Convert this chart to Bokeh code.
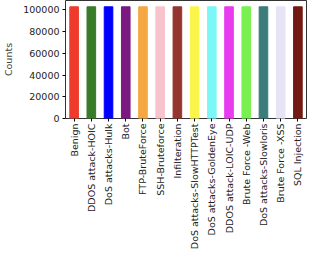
from bokeh.plotting import figure
from bokeh.models import ColumnDataSource, FactorRange, Range1d, FixedTicker, PrintfTickFormatter
from bokeh.embed import file_html
from bokeh.resources import INLINE
import math

categories = ["Benign", "DDOS attack-HOIC", "DoS attacks-Hulk", "Bot", "FTP-BruteForce",
              "SSH-Bruteforce", "Infilteration", "DoS attacks-SlowHTTPTest",
              "DoS attacks-GoldenEye", "DDOS attack-LOIC-UDP", "Brute Force -Web",
              "DoS attacks-Slowloris", "Brute Force -XSS", "SQL Injection"]
counts = [102800] * 14
colors = ["#ee3b2b", "#387b28", "#0000ff", "#7a1a80", "#f5a742", "#f7c3cc", "#953530",
          "#fbf54a", "#7cf7f7", "#e83cf0", "#78f050", "#3b7d7b", "#e6e4f5", "#731a12"]
y_ticks = [0, 20000, 40000, 60000, 80000, 100000]

src = ColumnDataSource(dict(cat=categories, val=counts, col=colors))

p = figure(width=308, height=252, x_range=FactorRange(*categories),
           y_range=Range1d(0, 108600), output_backend="svg", toolbar_location=None,
           min_border_left=0, min_border_right=2, min_border_top=0, min_border_bottom=0)
p.vbar(x="cat", top="val", width=0.5, color="col", source=src)

p.xgrid.visible = False
p.ygrid.visible = False
p.outline_line_color = "black"
p.outline_line_width = 1
p.outline_line_alpha = 0.8

p.yaxis.ticker = FixedTicker(ticks=y_ticks)
p.yaxis.formatter = PrintfTickFormatter(format="%d")
p.yaxis.axis_label = "Counts"
p.yaxis.axis_label_text_font = "DejaVu Sans"
p.yaxis.axis_label_text_font_size = "9.5px"
p.yaxis.axis_label_text_font_style = "normal"
p.yaxis.axis_label_standoff = 6

for ax in (p.xaxis, p.yaxis):
    ax.major_label_text_font = "DejaVu Sans"
    ax.major_label_text_font_size = "9.5px"
    ax.major_label_text_color = "#222222"
    ax.major_tick_in = 0
    ax.major_tick_out = 3
    ax.minor_tick_in = 0
    ax.minor_tick_out = 0
    ax.axis_line_color = None
    ax.major_tick_line_color = "black"

p.xaxis.major_label_orientation = math.pi / 2
p.xaxis.major_label_standoff = 2
p.yaxis.major_label_standoff = 3

open("out.html", "w").write(file_html(p, INLINE))
